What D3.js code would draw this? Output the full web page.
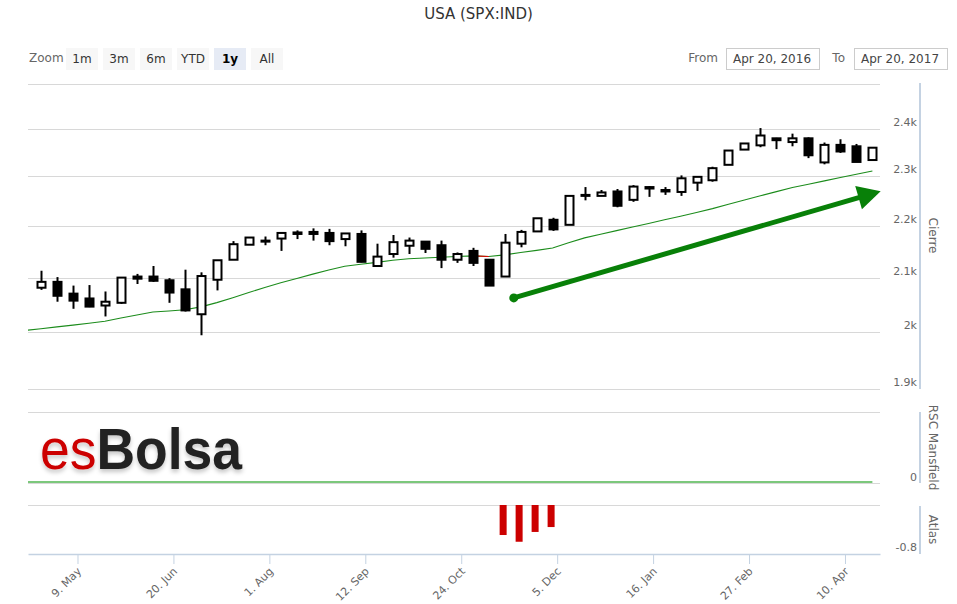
<!DOCTYPE html>
<html><head><meta charset="utf-8">
<script src="https://cdn.jsdelivr.net/npm/d3@7"></script>
<style>body{margin:0;background:#fff;} svg{display:block;font-family:"DejaVu Sans",sans-serif;}</style>
</head><body><svg id="c" width="957" height="604"></svg>
<script>
// ---------------- data ----------------
const chartTitle = "USA (SPX:IND)";
const zoomButtons = ["1m","3m","6m","YTD","1y","All"];
const selectedButton = "1y";
const fromDate = "Apr 20, 2016";
const toDate = "Apr 20, 2017";
const xExtent = ["2016-04-17T08:00:00Z","2017-04-25T08:00:00Z"];
const dates = ["2016-04-23","2016-04-30","2016-05-07","2016-05-14","2016-05-21","2016-05-28","2016-06-04","2016-06-11","2016-06-18","2016-06-25",
"2016-07-02","2016-07-09","2016-07-16","2016-07-23","2016-07-30","2016-08-06","2016-08-13","2016-08-20","2016-08-27","2016-09-03",
"2016-09-10","2016-09-17","2016-09-24","2016-10-01","2016-10-08","2016-10-15","2016-10-22","2016-10-29","2016-11-05","2016-11-12",
"2016-11-19","2016-11-26","2016-12-03","2016-12-10","2016-12-17","2016-12-24","2016-12-31","2017-01-07","2017-01-14","2017-01-21",
"2017-01-28","2017-02-04","2017-02-11","2017-02-18","2017-02-25","2017-03-04","2017-03-11","2017-03-18","2017-03-25","2017-04-01",
"2017-04-08","2017-04-15","2017-04-22"];
const open  = [2081,2092,2070,2061,2048,2053,2102,2102,2095,2078,2032,2096,2134,2163,2171,2175,2187,2188,2186,2174,2184,2122,2145,2161,2169,2162,2134,2151,2134,2102,2165,2189,2212,2202,2262,2260,2269,2252,2278,2272,2268,2287,2292,2324,2356,2365,2380,2372,2380,2329,2366,2363,2334];
const high  = [2113,2101,2085,2086,2074,2101,2107,2122,2099,2115,2110,2133,2170,2177,2179,2186,2191,2195,2194,2185,2191,2165,2182,2177,2169,2171,2148,2157,2134,2184,2192,2215,2216,2260,2278,2272,2274,2282,2280,2278,2302,2299,2320,2354,2369,2402,2381,2390,2382,2371,2378,2368,2361];
const low   = [2077,2055,2042,2045,2028,2051,2088,2092,2053,2037,1994,2076,2134,2163,2162,2151,2174,2171,2162,2160,2129,2122,2138,2145,2147,2118,2128,2122,2085,2102,2158,2189,2190,2202,2251,2260,2237,2248,2258,2262,2260,2270,2289,2324,2356,2361,2357,2363,2338,2325,2349,2330,2334];
const close = [2092,2066,2057,2046,2055,2100,2098,2094,2072,2039,2103,2133,2164,2177,2169,2186,2184,2184,2170,2185,2130,2140,2168,2171,2155,2134,2145,2128,2085,2167,2188,2215,2193,2260,2260,2267,2240,2279,2275,2269,2296,2299,2317,2354,2369,2386,2376,2380,2344,2366,2352,2330,2360];
const maDates = ["2016-04-16"].concat(dates);
const maValues = [2002.6,2005.7,2009,2012.3,2015.7,2019.2,2025.1,2030.6,2036.1,2038,2040.2,2045.5,2053.3,2062.3,2072,2081.6,2090.2,2098.5,2106.6,2114.3,2121.6,2125.5,2128.9,2133,2135.9,2137.3,2138.8,2140.3,2141.5,2140.3,2143.4,2147.9,2152.1,2156.6,2166.8,2176.3,2183.4,2190.5,2197.7,2204.8,2211.9,2219.2,2226.5,2234.3,2243,2251.5,2260.2,2268.7,2277,2283.8,2290.7,2297.6,2304.4,2311.2];
const rscValues = maDates.map(() => 0);
const atlasDates = ["2016-11-12","2016-11-19","2016-11-26","2016-12-03"];
const atlasValues = [-0.49,-0.60,-0.44,-0.36];
const priceGrid = [1900,2000,2100,2200,2300,2400,2500];
const priceTicks = [1900,2000,2100,2200,2300,2400];
const priceTickLabels = ["1.9k","2k","2.1k","2.2k","2.3k","2.4k"];
const dateTicks = ["2016-05-09","2016-06-20","2016-08-01","2016-09-12","2016-10-24","2016-12-05","2017-01-16","2017-02-27","2017-04-10"];
const dateTickLabels = ["9. May","20. Jun","1. Aug","12. Sep","24. Oct","5. Dec","16. Jan","27. Feb","10. Apr"];
const arrowStart = {date:"2016-11-16", value:2062};
const arrowEnd = {date:"2017-04-25T15:00:00Z", value:2269.5};

// ---------------- layout ----------------
const L = 28, R = 880, AX = 920;
const svg = d3.select("#c");
const parse = s => new Date(s.length === 10 ? s + "T00:00:00Z" : s);
const x = d3.scaleUtc().domain(xExtent.map(parse)).range([L, R]);
const y = d3.scaleLog().domain([1900, 2400]).range([389, 129]);
const yR = d3.scaleLinear().domain([0, 1]).range([483, 412]);
const yA = d3.scaleLinear().domain([-0.8, 0]).range([554, 505]);
const gridC = "#d8d8d8", axisC = "#c4d2e2", labC = "#666";

svg.append("defs").html(`
<clipPath id="clipMain"><rect x="${L}" y="80" width="${R-L}" height="312"/></clipPath>
<clipPath id="clipR"><rect x="${L}" y="405" width="${R-L}" height="85"/></clipPath>
<filter id="sh" x="-10%" y="-20%" width="120%" height="160%"><feDropShadow dx="0" dy="3" stdDeviation="2" flood-color="#000" flood-opacity="0.22"/></filter>`);

// title
svg.append("text").attr("x", 478.5).attr("y", 19).attr("text-anchor", "middle")
  .attr("font-size", 15).attr("fill", "#333").text(chartTitle);

// range selector
svg.append("text").attr("x", 29).attr("y", 62).attr("font-size", 12).attr("fill", labC).text("Zoom");
const btn = svg.append("g").selectAll("g").data(zoomButtons).join("g")
  .attr("transform", (d, i) => `translate(${66 + i * 37},48)`);
btn.append("rect").attr("width", 32).attr("height", 22)
  .attr("fill", d => d === selectedButton ? "#e6ebf5" : "#f7f7f7");
btn.append("text").attr("x", 16).attr("y", 14.5).attr("text-anchor", "middle").attr("font-size", 12)
  .attr("font-weight", d => d === selectedButton ? "bold" : "normal")
  .attr("fill", d => d === selectedButton ? "#000" : "#333").text(d => d);

// from / to
svg.append("text").attr("x", 718).attr("y", 62).attr("text-anchor", "end").attr("font-size", 12).attr("fill", labC).text("From");
svg.append("rect").attr("x", 726.5).attr("y", 48.5).attr("width", 93).attr("height", 21).attr("fill", "#fff").attr("stroke", "#ccc");
svg.append("text").attr("x", 733).attr("y", 63).attr("font-size", 12).attr("fill", "#444").text(fromDate);
svg.append("text").attr("x", 845).attr("y", 62).attr("text-anchor", "end").attr("font-size", 12).attr("fill", labC).text("To");
svg.append("rect").attr("x", 854.5).attr("y", 48.5).attr("width", 93).attr("height", 21).attr("fill", "#fff").attr("stroke", "#ccc");
svg.append("text").attr("x", 861).attr("y", 63).attr("font-size", 12).attr("fill", "#444").text(toDate);

// gridlines
const gl = svg.append("g").attr("stroke", gridC).attr("stroke-width", 1);
gl.selectAll("line.p").data(priceGrid).join("line").attr("class", "p")
  .attr("x1", L).attr("x2", R).attr("y1", d => Math.round(y(d)) + 0.5).attr("y2", d => Math.round(y(d)) + 0.5);
gl.selectAll("line.r").data([0, 1]).join("line").attr("class", "r")
  .attr("x1", L).attr("x2", R).attr("y1", d => yR(d) + 0.5).attr("y2", d => yR(d) + 0.5);
gl.append("line").attr("x1", L).attr("x2", R).attr("y1", yA(0) + 0.5).attr("y2", yA(0) + 0.5);

// logo (single text element)
const logo = svg.append("text").attr("x", 40).attr("y", 468.5).attr("filter", "url(#sh)")
  .attr("font-family", "'Liberation Sans',Arial,sans-serif").attr("font-size", 58)
  .attr("textLength", 202).attr("lengthAdjust", "spacingAndGlyphs");
logo.append("tspan").attr("fill", "#cc0000").text("es");
logo.append("tspan").attr("fill", "#222").attr("font-weight", "bold").text("Bolsa");

// right axes
function rAxis(y1, y2) {
  svg.append("line").attr("x1", AX).attr("x2", AX).attr("y1", y1).attr("y2", y2).attr("stroke", axisC).attr("stroke-width", 2);
}
rAxis(83, 389); rAxis(412, 483); rAxis(506, 554);
svg.append("g").selectAll("text").data(priceTicks).join("text")
  .attr("x", 917).attr("y", d => y(d) - 3).attr("text-anchor", "end").attr("font-size", 11).attr("fill", labC)
  .text((d, i) => priceTickLabels[i]);
svg.append("text").attr("x", 917).attr("y", yR(0) - 2.5).attr("text-anchor", "end").attr("font-size", 11).attr("fill", labC).text("0");
svg.append("text").attr("x", 917).attr("y", yA(-0.8) - 3).attr("text-anchor", "end").attr("font-size", 11).attr("fill", labC).text("-0.8");
function aTitle(t, cy) {
  svg.append("text").attr("transform", `translate(929,${cy}) rotate(90)`).attr("text-anchor", "middle")
    .attr("font-size", 12).attr("fill", labC).text(t);
}
aTitle("Cierre", 235.5); aTitle("RSC Mansfield", 447.5); aTitle("Atlas", 529.5);

// x axis
const xAxis = d3.axisBottom(x).tickValues(dateTicks.map(parse)).tickSize(10).tickSizeOuter(0)
  .tickFormat((d, i) => dateTickLabels[i]);
const xg = svg.append("g").attr("transform", `translate(0,${yA(-0.8)})`).call(xAxis);
xg.select(".domain").attr("stroke", axisC).attr("stroke-width", 1.5);
xg.selectAll(".tick line").attr("stroke", axisC);
xg.selectAll(".tick text").attr("font-family", "DejaVu Sans").attr("font-size", 11).attr("fill", labC)
  .attr("text-anchor", "end").attr("dy", null).attr("y", 0)
  .attr("transform", "translate(4,18) rotate(-45)");

// main panel: MA line
const main = svg.append("g").attr("clip-path", "url(#clipMain)");
const maPts = maDates.map((d, i) => [x(parse(d)), y(maValues[i])]);
main.append("path").attr("d", d3.line()(maPts)).attr("fill", "none").attr("stroke", "#1c8c1c").attr("stroke-width", 1.1);
for (let i = 1; i < maPts.length; i++) {
  if (maValues[i] < maValues[i - 1]) {
    main.append("path").attr("d", d3.line()([maPts[i - 1], maPts[i]])).attr("fill", "none").attr("stroke", "#e00000").attr("stroke-width", 1.1);
  }
}

// candles
const cg = main.append("g");
dates.forEach((d, i) => {
  const cx = Math.round(x(parse(d))) + 0.5;
  const up = close[i] >= open[i];
  cg.append("line").attr("x1", cx).attr("x2", cx).attr("y1", y(high[i])).attr("y2", y(low[i]))
    .attr("stroke", "#000").attr("stroke-width", 2);
  const top = y(Math.max(open[i], close[i])), bot = y(Math.min(open[i], close[i]));
  cg.append("rect").attr("x", cx - 4).attr("width", 8).attr("y", top).attr("height", Math.max(bot - top, 0.8))
    .attr("fill", up ? "#fff" : "#000").attr("stroke", "#000").attr("stroke-width", 2);
});

// arrow annotation
const ax0 = x(parse(arrowStart.date)), ay0 = y(arrowStart.value);
const ax1 = x(parse(arrowEnd.date)), ay1 = y(arrowEnd.value);
const ang = Math.atan2(ay1 - ay0, ax1 - ax0);
const hl = 23, hw = 12;
const bx = ax1 - hl * Math.cos(ang), by = ay1 - hl * Math.sin(ang);
const arrowC = "#088008";
svg.append("line").attr("x1", ax0).attr("y1", ay0).attr("x2", bx + 2 * Math.cos(ang)).attr("y2", by + 2 * Math.sin(ang))
  .attr("stroke", arrowC).attr("stroke-width", 5);
svg.append("circle").attr("cx", ax0).attr("cy", ay0).attr("r", 4.5).attr("fill", arrowC);
svg.append("path").attr("d", `M${ax1},${ay1}L${bx + hw * Math.sin(ang)},${by - hw * Math.cos(ang)}L${bx - hw * Math.sin(ang)},${by + hw * Math.cos(ang)}Z`)
  .attr("fill", arrowC);

// RSC Mansfield line
svg.append("g").attr("clip-path", "url(#clipR)").append("path")
  .attr("d", d3.line()(maDates.map((d, i) => [x(parse(d)), yR(rscValues[i]) - 1])))
  .attr("fill", "none").attr("stroke", "#7cc87c").attr("stroke-width", 2);

// Atlas bars
svg.append("g").selectAll("rect").data(atlasDates).join("rect")
  .attr("x", d => x(parse(d)) - 5).attr("width", 7)
  .attr("y", yA(0)).attr("height", (d, i) => yA(atlasValues[i]) - yA(0))
  .attr("fill", "#cc0000");
</script></body></html>
